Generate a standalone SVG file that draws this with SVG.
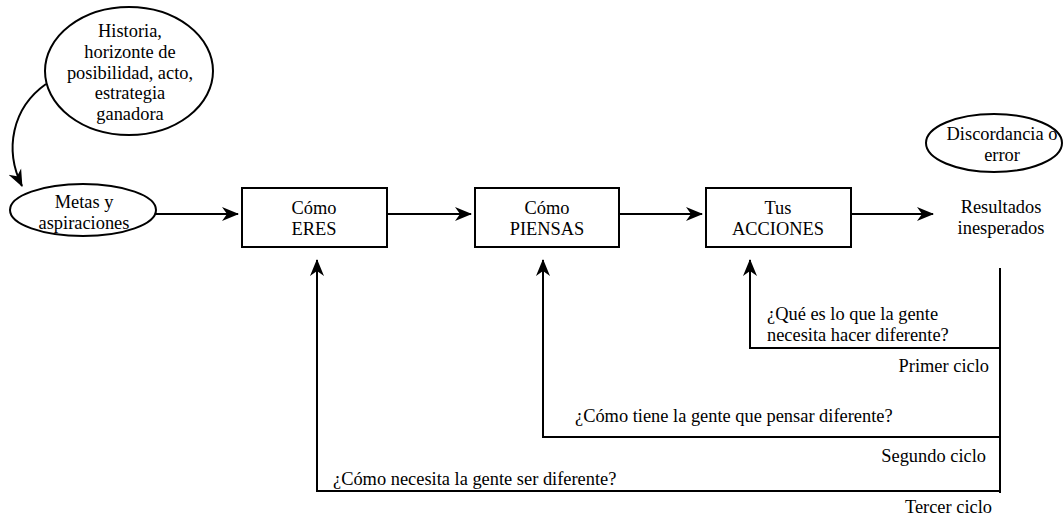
<svg xmlns="http://www.w3.org/2000/svg" width="1064" height="516" viewBox="0 0 1064 516">
<style>
text{font-family:"Liberation Serif","Times New Roman",serif;font-size:18.4px;fill:#000}
.c{text-anchor:middle}
.e{text-anchor:end}
.shape{fill:#fff;stroke:#000;stroke-width:2}
.ln{fill:none;stroke:#000;stroke-width:2}
</style>
<defs>
<marker id="ah" markerWidth="17" markerHeight="16" refX="16" refY="8" orient="auto" markerUnits="userSpaceOnUse">
<path d="M0,1 L17,8 L0,15 L5,8 Z" fill="#000"/>
</marker>
</defs>
<rect width="1064" height="516" fill="#fff"/>
<g id="connectors">
<path class="ln" d="M46,84 C12,108 4,150 22,186" marker-end="url(#ah)"/>
<line class="ln" x1="155" y1="214" x2="238" y2="214" marker-end="url(#ah)"/>
<line class="ln" x1="387" y1="214" x2="471" y2="214" marker-end="url(#ah)"/>
<line class="ln" x1="619" y1="214" x2="702" y2="214" marker-end="url(#ah)"/>
<line class="ln" x1="851" y1="214" x2="933" y2="214" marker-end="url(#ah)"/>
<line class="ln" x1="1000" y1="268" x2="1000" y2="493"/>
<polyline class="ln" points="1000,348 750,348 750,260" marker-end="url(#ah)"/>
<polyline class="ln" points="1000,437 543,437 543,260" marker-end="url(#ah)"/>
<polyline class="ln" points="1000,491 317,491 317,260" marker-end="url(#ah)"/>
</g>
<g id="historia">
<ellipse class="shape" cx="129" cy="71" rx="84" ry="64"/>
<text class="c" x="130" y="37">Historia,</text>
<text class="c" x="130" y="58">horizonte de</text>
<text class="c" x="130" y="79">posibilidad, acto,</text>
<text class="c" x="130" y="99">estrategia</text>
<text class="c" x="130" y="120">ganadora</text>
</g>
<g id="metas">
<ellipse class="shape" cx="83" cy="210" rx="73" ry="26"/>
<text class="c" x="84" y="208">Metas y</text>
<text class="c" x="84" y="229">aspiraciones</text>
</g>
<g id="eres">
<rect class="shape" x="242" y="188" width="145" height="59"/>
<text class="c" x="314" y="214">Cómo</text>
<text class="c" x="314" y="235">ERES</text>
</g>
<g id="piensas">
<rect class="shape" x="475" y="188" width="144" height="59"/>
<text class="c" x="547" y="214">Cómo</text>
<text class="c" x="547" y="235">PIENSAS</text>
</g>
<g id="acciones">
<rect class="shape" x="706" y="188" width="145" height="59"/>
<text class="c" x="778" y="214">Tus</text>
<text class="c" x="778" y="235">ACCIONES</text>
</g>
<g id="discordancia">
<ellipse class="shape" cx="994" cy="143" rx="68" ry="29"/>
<text class="c" x="1002" y="140">Discordancia o</text>
<text class="c" x="1002" y="161">error</text>
</g>
<g id="resultados">
<text class="c" x="1001" y="213">Resultados</text>
<text class="c" x="1001" y="234">inesperados</text>
</g>
<g id="labels">
<text x="767" y="320">¿Qué es lo que la gente</text>
<text x="767" y="341">necesita hacer diferente?</text>
<text class="e" x="989" y="372">Primer ciclo</text>
<text x="575" y="422">¿Cómo tiene la gente que pensar diferente?</text>
<text class="e" x="986" y="462">Segundo ciclo</text>
<text x="333" y="485">¿Cómo necesita la gente ser diferente?</text>
<text class="e" x="992" y="513">Tercer ciclo</text>
</g>
</svg>
